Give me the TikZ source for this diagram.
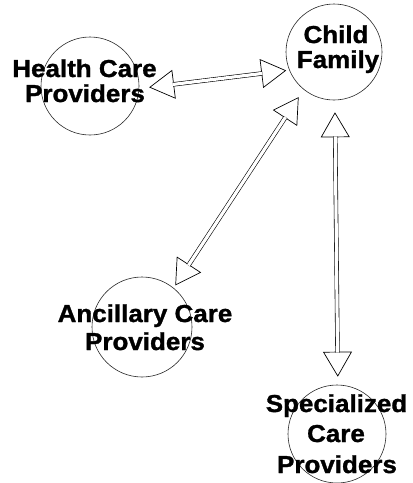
\documentclass[tikz,border=0pt]{standalone}
\usepackage{fontspec}
\setmainfont{Liberation Sans}[FakeStretch=1.06, BoldFeatures={FakeBold=1.2}]
\usetikzlibrary{arrows.meta}
\tikzset{
  circ/.style={circle, draw=black!85, line width=0.6pt, inner sep=0pt, minimum size=#1},
  lbl/.style={anchor=base, inner sep=0pt, text height=17pt, text depth=0pt, font=\fontsize{24.5}{24}\selectfont\bfseries},
  tipline/.style 2 args={draw=white, line width=0.1pt, shorten <=#1, shorten >=#2,
    {Triangle[open, fill=white, length=25pt, width=29pt, line width=0.7pt, black]}-{Triangle[open, fill=white, length=25pt, width=29pt, line width=0.7pt, black]}},
  shaft/.style 2 args={draw=black, double=white, double distance=3.2pt, line width=0.6pt, shorten <=#1, shorten >=#2}
}
\begin{document}
\begin{tikzpicture}[x=1pt,y=-1pt]
\useasboundingbox (0,0) rectangle (413,483);
% circles
\node[circ=98pt] (hc) at (90,86) {};
\node[circ=96pt] (cf) at (334,52) {};
\node[circ=100pt] (anc) at (142,327) {};
\node[circ=98pt] (sp) at (337,434) {};
% labels
\node[lbl] (hc1) at (84.5,77) {Health Care};
\node[lbl] (hc2) at (85,102) {Providers};
\node[lbl] (cf1) at (336,43) {Child};
\node[lbl] (cf2) at (338,68) {Family};
\node[lbl] (anc1) at (145,322) {Ancillary Care};
\node[lbl] (anc2) at (145,350) {Providers};
\node[lbl] (sp1) at (336.5,412) {Specialized};
\node[lbl] (sp2) at (336,442) {Care};
\node[lbl] (sp3) at (337,473) {Providers};
% connectors
\draw[tipline={10pt}{3pt}] (hc.-3) -- (cf.202);
\draw[shaft={34pt}{27pt}] (hc.-3) -- (cf.202);
\draw[tipline={9pt}{3pt}] (cf.231) -- (anc.51);
\draw[shaft={33pt}{27pt}] (cf.231) -- (anc.51);
\draw[tipline={12pt}{8pt}] (cf.-89) -- (sp.89);
\draw[shaft={36pt}{32pt}] (cf.-89) -- (sp.89);
\end{tikzpicture}
\end{document}
